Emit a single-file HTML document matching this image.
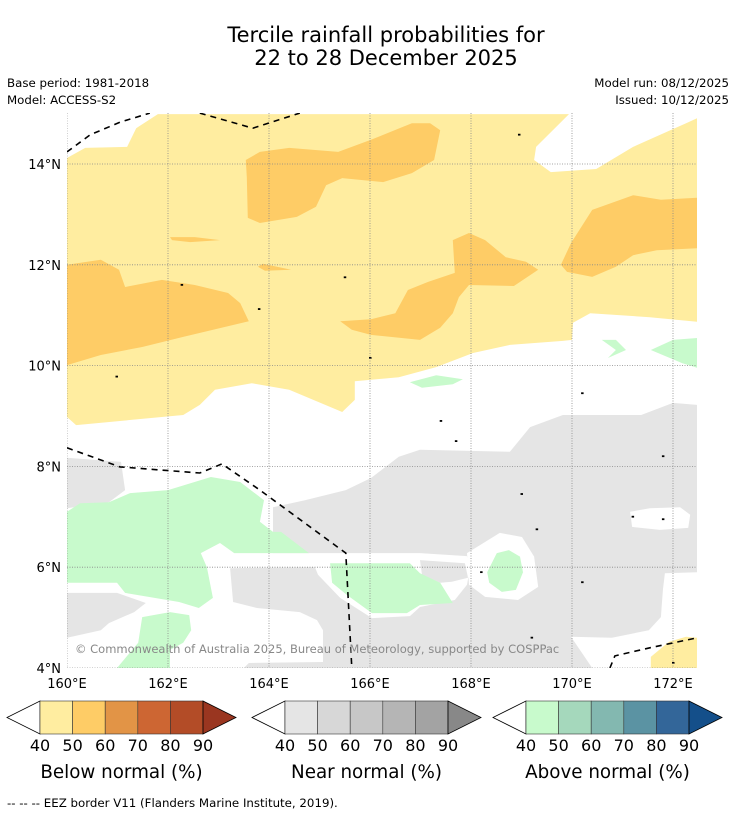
<!DOCTYPE html>
<html><head><meta charset="utf-8"><style>
body{margin:0;background:#fff;}
svg{display:block;font-family:"DejaVu Sans","Liberation Sans",sans-serif;}
</style></head><body>
<svg id="chart" width="736" height="816" viewBox="0 0 736 816" xmlns="http://www.w3.org/2000/svg">
<rect width="736" height="816" fill="#fff"/>
<text x="386" y="42" font-size="21" text-anchor="middle" fill="#000">Tercile rainfall probabilities for</text>
<text x="386" y="65" font-size="21" text-anchor="middle" fill="#000">22 to 28 December 2025</text>
<text x="7" y="87" font-size="11.8">Base period: 1981-2018</text>
<text x="7" y="104" font-size="11.8">Model: ACCESS-S2</text>
<text x="729" y="87" font-size="11.8" text-anchor="end">Model run: 08/12/2025</text>
<text x="729" y="104" font-size="11.8" text-anchor="end">Issued: 10/12/2025</text>
<defs><clipPath id="mapclip"><rect x="67" y="113" width="630" height="555"/></clipPath></defs>
<g id="map" clip-path="url(#mapclip)"></g>
<g id="axes"></g>
<text x="75" y="653" font-size="11.5" fill="#888">© Commonwealth of Australia 2025, Bureau of Meteorology, supported by COSPPac</text>
<g id="cbars"></g>
<text x="7" y="807" font-size="11.8">--  --  -- EEZ border V11 (Flanders Marine Institute, 2019).</text>
</svg>
<script>
const lonTicks=[160,162,164,166,168,170,172];
const latTicks=[4,6,8,10,12,14];
const yellowMain=[[160,14.12],[160.36,14.32],[161.19,14.34],[161.37,14.71],[161.8,14.99],[169.94,14.99],[169.29,14.34],[169.25,14.08],[169.58,13.84],[170.48,13.9],[171.21,14.34],[172.26,14.81],[172.48,14.91],[172.48,10.87],[171.54,10.96],[170.36,11.04],[170.02,10.85],[170,10.51],[169.82,10.49],[168.77,10.41],[168.04,10.25],[167.31,9.97],[166.57,9.77],[165.7,9.69],[165.7,9.32],[165.45,9.08],[164.4,9.52],[163.66,9.65],[162.93,9.52],[162.63,9.22],[162.3,9.02],[160.18,8.82],[160,8.98]];
const yellowCorner=[[171.56,4.22],[171.92,4.52],[172.26,4.62],[172.5,4.6],[172.5,4],[171.56,4]];
const orange1=[[163.54,14.08],[163.82,14.24],[164.4,14.32],[165.37,14.24],[166.02,14.48],[166.83,14.81],[167.19,14.81],[167.39,14.67],[167.27,14.08],[166.83,13.82],[166.26,13.64],[165.45,13.72],[165.13,13.58],[164.93,13.15],[164.55,12.95],[163.82,12.83],[163.58,12.93],[163.56,13.74]];
const orange2=[[160,12],[160.67,12.1],[161.03,11.9],[161.15,11.56],[161.88,11.7],[162.53,11.6],[163.19,11.44],[163.43,11.24],[163.6,10.88],[162.3,10.57],[161.49,10.37],[160.67,10.21],[160,10.01]];
const orange3=[[165.41,10.88],[166.02,10.92],[166.5,11.04],[166.75,11.5],[167.15,11.66],[167.68,11.84],[167.64,12.49],[167.96,12.63],[168.28,12.49],[168.69,12.15],[169.09,12.06],[169.33,11.9],[168.85,11.58],[167.96,11.6],[167.76,11.36],[167.64,11.04],[167.39,10.75],[166.99,10.51],[166.02,10.61],[165.64,10.71]];
const orange4=[[169.78,12],[169.98,12.43],[170.4,13.09],[171.21,13.38],[171.76,13.29],[172.48,13.33],[172.48,12.33],[171.68,12.29],[171.21,12.19],[170.87,11.96],[170.4,11.76],[169.9,11.86]];
const orange5=[[162.04,12.55],[162.53,12.55],[163.03,12.49],[162.44,12.45],[162.08,12.49]];
const orange6=[[163.78,11.96],[163.88,12.02],[164.44,11.9],[163.92,11.88]];
const grayMain=[[164.08,7.19],[164.71,7.33],[165.52,7.53],[166.02,7.77],[166.57,8.19],[166.99,8.33],[168.77,8.29],[169.17,8.78],[169.82,9.02],[171.37,9.02],[172,9.26],[172.48,9.22],[172.48,5.9],[171.84,5.88],[171.8,5.55],[171.76,5.01],[171.52,4.75],[170.79,4.6],[169.98,4.62],[170.4,4],[165.07,4],[165.07,4.75],[164.95,4.95],[164.61,5.11],[163.76,5.19],[163.29,5.31],[163.23,5.98],[164.08,6.28]];
const grayBottom=[[163.5,4],[165.07,4],[165.07,4.12],[163.6,4.1]];
const grayLeftTop=[[160,8.17],[161.07,8.09],[161.15,7.53],[160.83,7.29],[160,7.17]];
const grayLeftLow=[[160,5.49],[160.99,5.49],[161.56,5.29],[161.33,5.11],[160.83,4.89],[160.67,4.75],[160,4.6]];
const whiteBand=[[162.63,6.28],[166.99,6.28],[167.92,6.22],[167.98,5.98],[167.92,5.65],[167.68,5.35],[166.99,5.21],[166.79,5.03],[166.04,4.99],[165.41,5.39],[164.97,5.85],[164.91,6],[163.23,5.98],[162.63,6.1]];
const grayPocket=[[166.99,6.14],[167.88,6.08],[167.94,5.79],[167.62,5.71],[167.39,5.69],[167.03,5.85]];
const whiteRing=[[167.92,6.28],[168.57,6.68],[169.01,6.6],[169.25,6.21],[169.33,5.61],[168.93,5.35],[168.28,5.41],[167.96,5.65]];
const whitePocket=[[171.15,7.1],[171.54,7.17],[172.14,7.19],[172.34,7.04],[172.3,6.78],[171.74,6.74],[171.19,6.8]];
const greenLeft=[[160,7.1],[160.26,7.27],[160.83,7.29],[161.25,7.47],[162,7.53],[162.85,7.79],[163.43,7.69],[163.9,7.33],[163.82,6.9],[164.08,6.7],[164.24,6.7],[164.79,6.28],[163.31,6.28],[163.03,6.48],[162.65,6.28],[162.77,6],[162.89,5.39],[162.61,5.19],[162.22,5.31],[161.15,5.49],[160.99,5.69],[160,5.69]];
const greenSmall=[[161.49,5.01],[162.04,5.11],[162.42,5.05],[162.46,4.75],[162.3,4.5],[162.04,4.36],[162.04,4],[160.99,4],[161.41,4.5]];
const greenMid=[[165.21,6.08],[166.79,6.08],[166.99,5.88],[167.39,5.69],[167.64,5.29],[166.99,5.25],[166.73,5.09],[166.04,5.09],[165.54,5.45],[165.25,5.69]];
const greenRight=[[168.32,5.9],[168.51,6.28],[168.75,6.34],[168.97,6.21],[169.03,5.9],[168.89,5.55],[168.61,5.51],[168.36,5.69]];
const greenA=[[166.79,9.67],[167.31,9.81],[167.84,9.73],[167.64,9.63],[167.03,9.56]];
const greenB=[[170.59,10.51],[170.87,10.51],[171.07,10.31],[170.71,10.15],[170.87,10.31]];
const greenC=[[171.56,10.31],[172,10.51],[172.5,10.55],[172.5,9.95],[172.18,10.05]];
const eez1=[[160,14.24],[160.46,14.58],[161.05,14.83],[161.64,15.01]];
const eez2=[[162.63,15.01],[163.68,14.71],[164.61,15.01]];
const eez3=[[160,8.37],[161.05,7.99],[162.63,7.87],[163.07,8.05],[163.82,7.53],[165.52,6.28],[165.64,4]];
const eez4=[[170.75,4],[170.85,4.24],[171.54,4.4],[172.48,4.6]];
const islands=[[162.27,11.6],[163.8,11.12],[165.5,11.75],[166,10.15],[167.4,8.9],[167.7,8.5],[169.0,7.45],[169.3,6.75],[170.2,5.7],[171.2,7.0],[171.8,6.95],[168.2,5.9],[169.2,4.6],[172,4.1],[170.2,9.45],[160.98,9.78],[168.95,14.58],[171.8,8.2]];
const belowColors=["#FFEDA0","#FECC66","#E29446","#CD6633","#B34C27","#9A3620"];
const nearColors=["#E5E5E5","#D7D7D7","#C7C7C7","#B5B5B5","#A3A3A3","#888888"];
const aboveColors=["#C8FACC","#A5D8BC","#83B8B0","#5B93A3","#336699","#144F8A"];
const cbLabels=["40","50","60","70","80","90"];
const cbTitles=["Below normal (%)","Near normal (%)","Above normal (%)"];

const NS="http://www.w3.org/2000/svg";
const X=lon=>67+(lon-160)*50.5;
const Y=lat=>668-(lat-4)*50.4;
const map=document.getElementById('map');
const axes=document.getElementById('axes');
const cb=document.getElementById('cbars');
function mk(tag,parent){const e=document.createElementNS(NS,tag);parent.appendChild(e);return e;}
function pts(a){return a.map(p=>X(p[0]).toFixed(1)+','+Y(p[1]).toFixed(1)).join(' ');}
function poly(a,fill,name){
  const e=mk('polygon',map);
  e.setAttribute('points',pts(a));e.setAttribute('fill',fill);
  
  
}
poly(yellowMain,"#FFEDA0","below-normal-40-50-north");
poly(yellowCorner,"#FFEDA0","below-normal-40-50-southeast");
poly(orange1,"#FECC66","below-normal-50-60-patch");
poly(orange2,"#FECC66","below-normal-50-60-patch");
poly(orange3,"#FECC66","below-normal-50-60-patch");
poly(orange4,"#FECC66","below-normal-50-60-patch");
poly(orange5,"#FECC66","below-normal-50-60-patch");
poly(orange6,"#FECC66","below-normal-50-60-patch");
poly(grayMain,"#E5E5E5","near-normal-40-50-region");
poly(grayBottom,"#E5E5E5","near-normal-40-50-region");
poly(grayLeftTop,"#E5E5E5","near-normal-40-50-region");
poly(grayLeftLow,"#E5E5E5","near-normal-40-50-region");
poly(whiteBand,"#FFFFFF","no-signal-area");
poly(grayPocket,"#E5E5E5","near-normal-40-50-region");
poly(whiteRing,"#FFFFFF","no-signal-area");
poly(whitePocket,"#FFFFFF","no-signal-area");
poly(greenLeft,"#C8FACC","above-normal-40-50-patch");
poly(greenSmall,"#C8FACC","above-normal-40-50-patch");
poly(greenMid,"#C8FACC","above-normal-40-50-patch");
poly(greenRight,"#C8FACC","above-normal-40-50-patch");
poly(greenA,"#C8FACC","above-normal-40-50-patch");
poly(greenB,"#C8FACC","above-normal-40-50-patch");
poly(greenC,"#C8FACC","above-normal-40-50-patch");
islands.forEach(p=>{
  const e=mk('rect',map);
  e.setAttribute('x',X(p[0])-1);e.setAttribute('y',Y(p[1])-1);
  e.setAttribute('width',2.5);e.setAttribute('height',1.8);e.setAttribute('fill','#000');
  
  
});
lonTicks.forEach(v=>{
  const l=mk('line',map);
  l.setAttribute('x1',X(v));l.setAttribute('x2',X(v));l.setAttribute('y1',113);l.setAttribute('y2',668);
  l.setAttribute('stroke','#888');l.setAttribute('stroke-width','0.8');l.setAttribute('stroke-dasharray','1,1.5');
  
  
  const t=mk('text',axes);
  t.setAttribute('x',X(v));t.setAttribute('y',688);t.setAttribute('font-size','13');t.setAttribute('text-anchor','middle');
  t.textContent=v+'°E';
  
  
});
latTicks.forEach(v=>{
  const l=mk('line',map);
  l.setAttribute('x1',67);l.setAttribute('x2',697);l.setAttribute('y1',Y(v));l.setAttribute('y2',Y(v));
  l.setAttribute('stroke','#888');l.setAttribute('stroke-width','0.8');l.setAttribute('stroke-dasharray','1,1.5');
  
  
  const t=mk('text',axes);
  t.setAttribute('x',61);t.setAttribute('y',Y(v)+5);t.setAttribute('font-size','13');t.setAttribute('text-anchor','end');
  t.textContent=v+'°N';
  
  
});
[eez1,eez2,eez3,eez4].forEach(a=>{
  const e=mk('polyline',map);
  e.setAttribute('points',pts(a));e.setAttribute('fill','none');e.setAttribute('stroke','#000');
  e.setAttribute('stroke-width','1.6');e.setAttribute('stroke-dasharray','6,5');
  
  
});
const cbLefts=[7,252,493];
[belowColors,nearColors,aboveColors].forEach((cols,k)=>{
  const x0=cbLefts[k],bx=x0+33,cw=32.6,y0=701,h=33,bx1=bx+cw*5;
  const g=mk('g',cb);
  
  
  const lt=mk('polygon',g);
  lt.setAttribute('points',`${x0},${y0+h/2} ${bx},${y0} ${bx},${y0+h}`);
  lt.setAttribute('fill','#fff');lt.setAttribute('stroke','#000');lt.setAttribute('stroke-width','0.8');
  
  
  for(let i=0;i<5;i++){
    const r=mk('rect',g);
    r.setAttribute('x',bx+i*cw);r.setAttribute('y',y0);r.setAttribute('width',cw);r.setAttribute('height',h);
    r.setAttribute('fill',cols[i]);r.setAttribute('stroke','#333');r.setAttribute('stroke-width','0.6');
    
    
  }
  const rt=mk('polygon',g);
  rt.setAttribute('points',`${bx1},${y0} ${bx1+33},${y0+h/2} ${bx1},${y0+h}`);
  rt.setAttribute('fill',cols[5]);rt.setAttribute('stroke','#000');rt.setAttribute('stroke-width','0.8');
  
  
  cbLabels.forEach((lab,i)=>{
    const t=mk('text',g);
    t.setAttribute('x',bx+i*cw);t.setAttribute('y',751);t.setAttribute('font-size','16');t.setAttribute('text-anchor','middle');
    t.textContent=lab;
    
    
  });
  const tt=mk('text',g);
  tt.setAttribute('x',bx+cw*2.5);tt.setAttribute('y',778);tt.setAttribute('font-size','18.3');tt.setAttribute('text-anchor','middle');
  tt.textContent=cbTitles[k];
  
  
});
</script>
</body></html>
